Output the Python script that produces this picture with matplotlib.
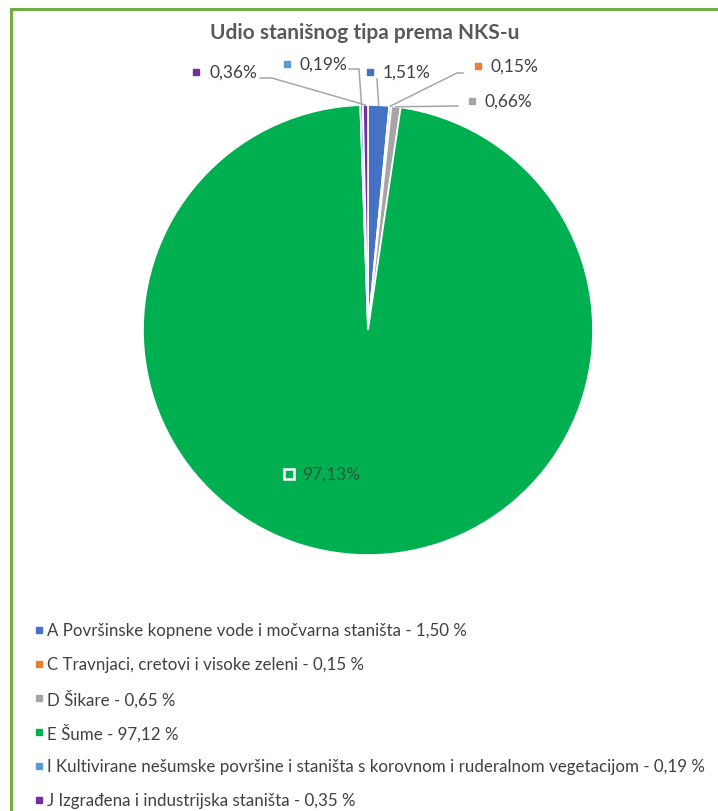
import matplotlib
matplotlib.use("Agg")
import matplotlib.pyplot as plt
from matplotlib.lines import Line2D
import numpy as np

plt.rcParams['font.family'] = ['Lato', 'DejaVu Sans']

codes = ['A', 'C', 'D', 'E', 'I', 'J']
names = ['Površinske kopnene vode i močvarna staništa',
         'Travnjaci, cretovi i visoke zeleni',
         'Šikare',
         'Šume',
         'Kultivirane nešumske površine i staništa s korovnom i ruderalnom vegetacijom',
         'Izgrađena i industrijska staništa']
pie_pct = [1.51, 0.15, 0.66, 97.13, 0.19, 0.36]
legend_pct = ['1,50', '0,15', '0,65', '97,12', '0,19', '0,35']
colors = ['#4472C4', '#ED7D31', '#A5A5A5', '#00B050', '#5B9BD5', '#7030A0']

W, H = 718, 812
def py(y):
    return H - y

fig = plt.figure(figsize=(W / 100, H / 100), dpi=100)
ax = fig.add_axes([0, 0, 1, 1])

cx, cy, r = 368, py(331), 225
wedges, _ = ax.pie(pie_pct, colors=colors, startangle=90, counterclock=False,
                   center=(cx, cy), radius=r,
                   wedgeprops=dict(edgecolor='white', linewidth=1.2))
ax.set_xlim(0, W)
ax.set_ylim(0, H)
ax.set_aspect('equal')
ax.axis('off')

# title
ax.text(365, py(33), 'Udio stanišnog tipa prema NKS-u', ha='center', va='center',
        fontsize=15, fontweight='bold', color='#595959')

# data labels: marker position and leader elbow points (pixels)
lab_pos = {'A': (370, 73), 'C': (478, 67), 'D': (472, 102),
           'E': (289, 475), 'I': (287, 65), 'J': (196, 73)}
elbows = {'A': [(377, 80)],
          'C': [(463, 74), (457, 74)],
          'D': [(458, 107)],
          'I': [(349, 70), (359, 70)],
          'J': [(260, 79), (272, 79)]}

for w, code, v, c in zip(wedges, codes, pie_pct, colors):
    mx, my = lab_pos[code]
    txt = f"{v:.2f}%".replace('.', ',')
    if code == 'E':
        ax.plot(mx, py(my), 's', ms=6.5, mfc=c, mec='white', mew=1.8)
        ax.text(mx + 13, py(my), txt, ha='left', va='center', fontsize=12.5,
                color='#2a5a3c')
        continue
    ax.plot(mx, py(my), 's', ms=4.5, color=c)
    ax.text(mx + 13, py(my), txt, ha='left', va='center', fontsize=12.5,
            color='#404040')
    ang = np.deg2rad((w.theta1 + w.theta2) / 2)
    rim = (cx + r * np.cos(ang), cy + r * np.sin(ang))
    pts = [(x, py(y)) for x, y in elbows[code]] + [rim]
    ax.plot([p[0] for p in pts], [p[1] for p in pts], color='#A6A6A6', lw=1.1)

# legend
for i, (code, name, pct, c) in enumerate(zip(codes, names, legend_pct, colors)):
    y = 631 + i * 34
    ax.plot(39, py(y), 's', ms=4.5, color=c)
    ax.text(47, py(y), f"{code} {name} - {pct} %", ha='left', va='center',
            fontsize=12.2, color='#404040')

# green frame (top and left)
fig.add_artist(Line2D([11 / W, 1], [1 - 10 / H, 1 - 10 / H], color='#70AD47', lw=2.2))
fig.add_artist(Line2D([11 / W, 11 / W], [0, 1 - 10 / H], color='#70AD47', lw=2.2))

fig.savefig('out.png', dpi=100)
